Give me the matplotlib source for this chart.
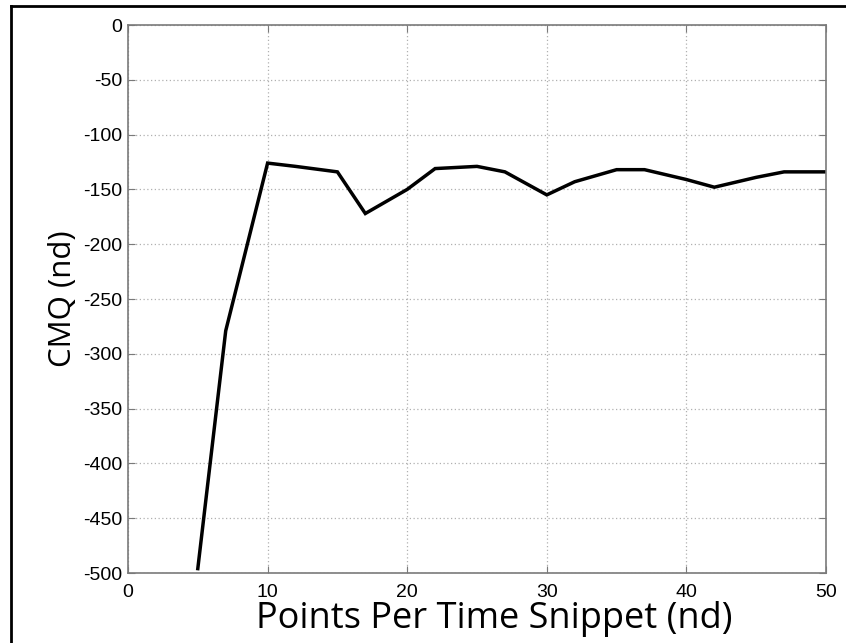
import numpy as np
import matplotlib.pyplot as plt
from matplotlib.lines import Line2D

plt.rcParams["axes.unicode_minus"] = False

# CMQ versus number of points in each time snippet
points = np.array([5, 7, 10, 12, 15, 17, 20, 22, 25, 27, 30, 32, 35, 37, 40, 42, 45, 47, 50])
cmq = np.array([-496, -279, -126, -129, -134, -172, -150, -131, -129, -134, -155, -143,
                -132, -132, -141, -148, -139, -134, -134])

xticks = [0, 10, 20, 30, 40, 50]
yticks = [0, -50, -100, -150, -200, -250, -300, -350, -400, -450, -500]

fig = plt.figure(figsize=(8.46, 6.43), dpi=100)
ax = fig.add_axes([128 / 846, 1 - 573 / 643, (826 - 128) / 846, (573 - 25) / 643])

ax.plot(points, cmq, color="black", linewidth=2.5, solid_joinstyle="miter")

ax.set_xlim(0, 50)
ax.set_ylim(-500, 0)
ax.set_xticks(xticks)
ax.set_yticks(yticks)
ax.grid(True, color="#b0b0b0", linestyle=(0, (1, 2)), linewidth=0.9)

for s in ax.spines.values():
    s.set_color("#7a7a7a")
    s.set_linewidth(1.2)
ax.tick_params(direction="in", length=5, color="#7a7a7a", top=True, right=True,
               labelsize=14)
ax.tick_params(axis="x", pad=8)
ax.tick_params(axis="y", pad=4)
for lab in ax.get_xticklabels() + ax.get_yticklabels():
    lab.set_fontfamily("Liberation Sans")

ax.set_xlabel("Points Per Time Snippet (nd)", fontsize=26, family="Open Sans")
ax.xaxis.set_label_coords(0.524, -0.1, transform=ax.transAxes)
ax.xaxis.label.set_va("baseline")
ax.set_ylabel("CMQ (nd)", fontsize=22.5, family="Open Sans", labelpad=4)

# frame around the figure (left and top edges)
fig.add_artist(Line2D([11 / 846, 11 / 846], [0, 1 - 6 / 643], color="black", linewidth=2,
                      transform=fig.transFigure))
fig.add_artist(Line2D([11 / 846, 1], [1 - 6 / 643, 1 - 6 / 643], color="black", linewidth=2,
                      transform=fig.transFigure))

fig.savefig("out.png", dpi=100)
